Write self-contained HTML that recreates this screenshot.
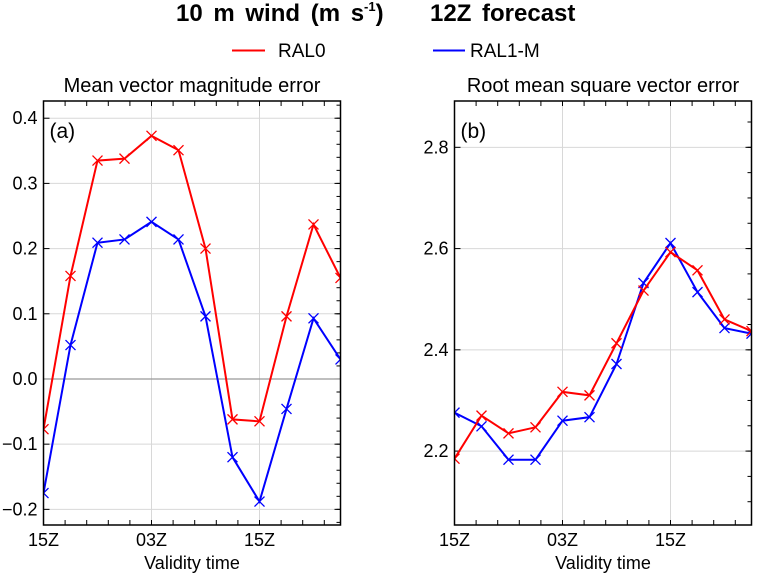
<!DOCTYPE html>
<html><head><meta charset="utf-8"><style>
body{margin:0;background:#fff;}
svg{display:block;font-family:"Liberation Sans",sans-serif;}
</style></head><body>
<svg id="chart" width="770" height="574" xmlns="http://www.w3.org/2000/svg">
<text x="176" y="21" font-size="24" font-weight="bold" word-spacing="4">10 m wind  (m s<tspan font-size="13" dy="-10">-1</tspan><tspan dy="10">)</tspan></text>
<text x="430" y="21" font-size="24" font-weight="bold" word-spacing="4">12Z forecast</text>
<g><line x1="232" y1="50.5" x2="265" y2="50.5" stroke="#f00" stroke-width="2"/><text x="278" y="57" font-size="19">RAL0</text></g>
<g><line x1="433" y1="50.5" x2="465" y2="50.5" stroke="#00f" stroke-width="2"/><text x="470" y="57" font-size="19">RAL1-M</text></g>
<g id="panels"></g>
</svg>
<script>
const timeLabels = ["15Z","03Z","15Z"];
const redA = [-0.077,0.158,0.335,0.338,0.373,0.351,0.200,-0.062,-0.065,0.096,0.237,0.155];
const blueA = [-0.175,0.052,0.209,0.214,0.241,0.214,0.096,-0.120,-0.188,-0.046,0.093,0.030];
const ticksA = [-0.2,-0.1,0.0,0.1,0.2,0.3,0.4];
const redB = [2.185,2.270,2.235,2.247,2.317,2.310,2.413,2.517,2.593,2.557,2.460,2.437];
const blueB = [2.276,2.249,2.183,2.183,2.260,2.267,2.372,2.532,2.611,2.514,2.443,2.432];
const ticksB = [2.2,2.4,2.6,2.8];

const NS="http://www.w3.org/2000/svg";
const root=document.getElementById('panels');
function mk(tag,attrs,parent){const e=document.createElementNS(NS,tag);for(const k in attrs)e.setAttribute(k,attrs[k]);(parent||root).appendChild(e);return e;}

function panel(cfg){
  const {L,R,T,B,ymin,ymax,title,tag,ticks,minor,dec,red,blue,name,zero}=cfg;
  const g=mk('g',{});
  
  
  const n=red.length;
  const xs=i=>L+(R-L)*i/(n-1);
  const ys=v=>B-(v-ymin)/(ymax-ymin)*(B-T);
  const t=mk('text',{x:(L+R)/2,y:92,'font-size':20,'text-anchor':'middle'},g);t.textContent=title;
  
  
  [4,8].forEach(i=>mk('line',{x1:xs(i),x2:xs(i),y1:T,y2:B,stroke:'#d8d8d8','stroke-width':1},g));
  ticks.forEach(v=>{
    const y=ys(v);
    mk('line',{x1:L,x2:R,y1:y,y2:y,stroke:'#d8d8d8','stroke-width':1},g);
    mk('line',{x1:L,x2:L+6,y1:y,y2:y,stroke:'#000'},g);
    mk('line',{x1:R-6,x2:R,y1:y,y2:y,stroke:'#000'},g);
    const lb=mk('text',{x:L-6,y:y+6,'font-size':18,'text-anchor':'end'},g);
    lb.textContent=(v<0?'\u2212':'')+Math.abs(v).toFixed(dec);
    
    
  });
  for(let v=Math.ceil(ymin/minor)*minor;v<ymax;v+=minor){const y=ys(v);mk('line',{x1:R-4,x2:R,y1:y,y2:y,stroke:'#000'},g);}
  if(zero) mk('line',{x1:L,x2:R,y1:ys(0),y2:ys(0),stroke:'#999','stroke-width':1.2},g);
  for(let k=1;k<15;k++){const x=L+(R-L)*k*(12/5)/33;if(x<R){mk('line',{x1:x,x2:x,y1:B-5,y2:B,stroke:'#000'},g);mk('line',{x1:x,x2:x,y1:T,y2:T+5,stroke:'#000'},g);}}
  [0,4,8].forEach((i,j)=>{
    const lb=mk('text',{x:xs(i),y:546,'font-size':18,'text-anchor':'middle'},g);lb.textContent=timeLabels[j];
    
    
  });
  const xl=mk('text',{x:(L+R)/2,y:569,'font-size':18,'text-anchor':'middle'},g);xl.textContent='Validity time';
  
  
  const pt=mk('text',{x:L+6,y:T+37,'font-size':21},g);pt.textContent=tag;
  
  
  const cp='c'+name;const cl=mk('clipPath',{id:cp},g);mk('rect',{x:L,y:T,width:R-L,height:B-T},cl);
  [[blue,'#00f','series-ral1m'],[red,'#f00','series-ral0']].forEach(([d,c,nm])=>{
    const s=mk('g',{'clip-path':'url(#'+cp+')'},g);
    
    
    mk('polyline',{points:d.map((v,i)=>xs(i)+','+ys(v)).join(' '),fill:'none',stroke:c,'stroke-width':2},s);
    d.forEach((v,i)=>{const x=xs(i),y=ys(v);
      mk('path',{d:`M${x-5},${y-5}L${x+5},${y+5}M${x-5},${y+5}L${x+5},${y-5}`,stroke:c,'stroke-width':1.3},s);});
  });
  mk('rect',{x:L,y:T,width:R-L,height:B-T,fill:'none',stroke:'#000','stroke-width':1.5},g);
}
panel({L:43.5,R:340.5,T:101,B:525,ymin:-0.224,ymax:0.4264,title:'Mean vector magnitude error',tag:'(a)',ticks:ticksA,minor:0.02,dec:1,red:redA,blue:blueA,name:'panel-a',zero:true});
panel({L:454.5,R:751.5,T:101,B:525,ymin:2.054,ymax:2.8915,title:'Root mean square vector error',tag:'(b)',ticks:ticksB,minor:0.05,dec:1,red:redB,blue:blueB,name:'panel-b',zero:false});
</script>
</body></html>
